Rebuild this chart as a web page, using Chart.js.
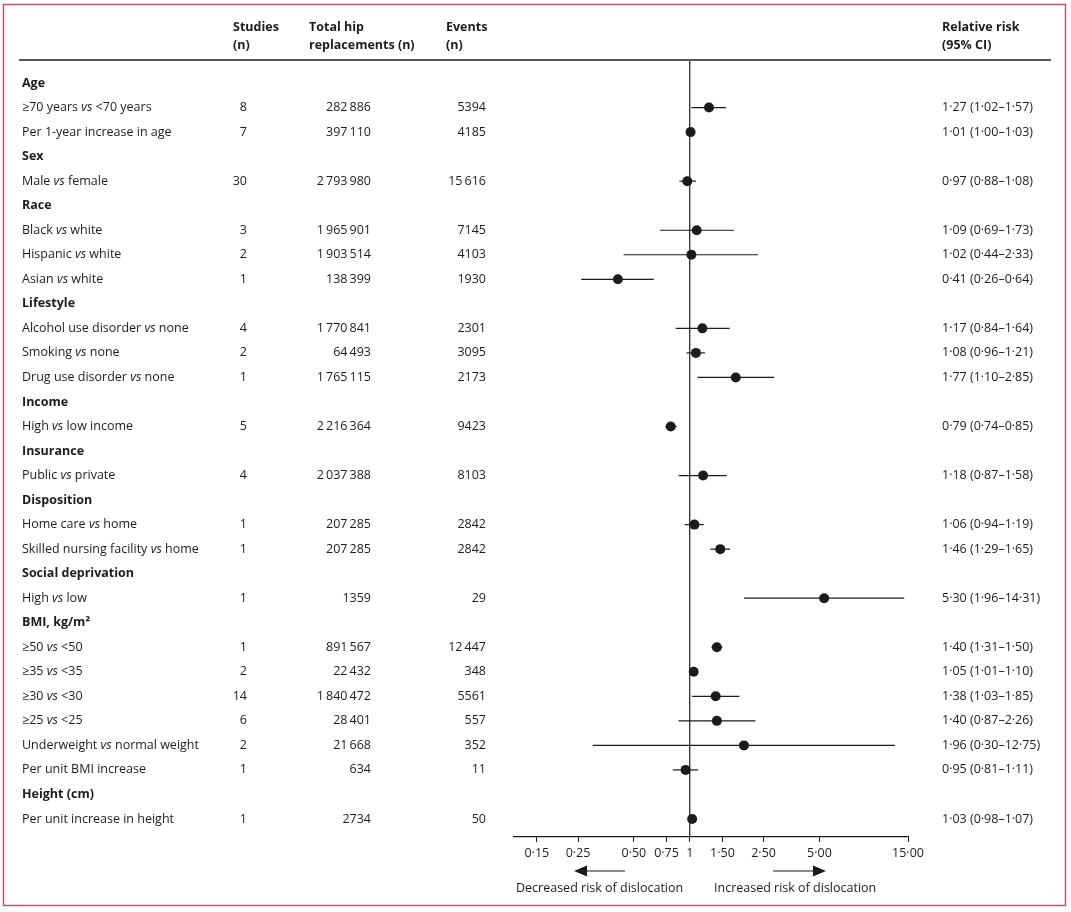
<!DOCTYPE html>
<html>
<head>
<meta charset="utf-8">
<script src="https://cdn.jsdelivr.net/npm/chart.js@4.4.1/dist/chart.umd.min.js"></script>
<style>
    html, body { margin: 0; padding: 0; background: #fff; }
    #wrap { width: 1071px; height: 912px; position: relative; }
</style>
</head>
<body>
<div id="wrap"><canvas id="forest"></canvas></div>
<script>
// Table rows (null = group heading)
const rowLabels = [
    'Age', '≥70 years vs <70 years', 'Per 1-year increase in age',
    'Sex', 'Male vs female',
    'Race', 'Black vs white', 'Hispanic vs white', 'Asian vs white',
    'Lifestyle', 'Alcohol use disorder vs none', 'Smoking vs none', 'Drug use disorder vs none',
    'Income', 'High vs low income',
    'Insurance', 'Public vs private',
    'Disposition', 'Home care vs home', 'Skilled nursing facility vs home',
    'Social deprivation', 'High vs low',
    'BMI, kg/m²', '≥50 vs <50', '≥35 vs <35', '≥30 vs <30', '≥25 vs <25',
    'Underweight vs normal weight', 'Per unit BMI increase',
    'Height (cm)', 'Per unit increase in height'
];
const studies = [null, 8, 7, null, 30, null, 3, 2, 1, null, 4, 2, 1, null, 5, null, 4, null, 1, 1,
    null, 1, null, 1, 2, 14, 6, 2, 1, null, 1];
const totals = [null, 282886, 397110, null, 2793980, null, 1965901, 1903514, 138399, null, 1770841,
    64493, 1765115, null, 2216364, null, 2037388, null, 207285, 207285, null, 1359, null, 891567,
    22432, 1840472, 28401, 21668, 634, null, 2734];
const events = [null, 5394, 4185, null, 15616, null, 7145, 4103, 1930, null, 2301, 3095, 2173,
    null, 9423, null, 8103, null, 2842, 2842, null, 29, null, 12447, 348, 5561, 557, 352, 11, null, 50];
const rr = [null, 1.27, 1.01, null, 0.97, null, 1.09, 1.02, 0.41, null, 1.17, 1.08, 1.77, null, 0.79,
    null, 1.18, null, 1.06, 1.46, null, 5.30, null, 1.40, 1.05, 1.38, 1.40, 1.96, 0.95, null, 1.03];
const ciLow = [null, 1.02, 1.00, null, 0.88, null, 0.69, 0.44, 0.26, null, 0.84, 0.96, 1.10, null, 0.74,
    null, 0.87, null, 0.94, 1.29, null, 1.96, null, 1.31, 1.01, 1.03, 0.87, 0.30, 0.81, null, 0.98];
const ciHigh = [null, 1.57, 1.03, null, 1.08, null, 1.73, 2.33, 0.64, null, 1.64, 1.21, 2.85, null, 0.85,
    null, 1.58, null, 1.19, 1.65, null, 14.31, null, 1.50, 1.10, 1.85, 2.26, 12.75, 1.11, null, 1.07];

// x axis ticks
const tickValues = [0.15, 0.25, 0.5, 0.75, 1, 1.5, 2.5, 5, 15];
const tickLabels = ['0·15', '0·25', '0·50', '0·75', '1', '1·50', '2·50', '5·00', '15·00'];

const FONT = "'Open Sans', sans-serif";
const INK = '#1e1b1c';
const FS = 12.5;

function fmtCount(n) {
    if (n >= 10000) return String(n).replace(/\B(?=(\d{3})+(?!\d))/g, '\u2009');
    return String(n);
}
function fmtDec(v) {
    return v.toFixed(2).replace('.', '·');
}

// label with italic "vs"
function drawLabel(ctx, text, x, y, bold) {
    let cx = x;
    text.split(/(\bvs\b)/).forEach(function (p) {
        ctx.font = (p === 'vs' ? 'italic ' : '') + (bold ? 'bold ' : '') + FS + 'px ' + FONT;
        ctx.fillText(p, cx, y);
        cx += ctx.measureText(p).width;
    });
}

// datasets
const ciSets = [];
rr.forEach(function (v, i) {
    if (v === null) return;
    ciSets.push({
        type: 'line',
        data: [{x: ciLow[i], y: i}, {x: ciHigh[i], y: i}],
        borderColor: INK,
        borderWidth: 1.2,
        pointRadius: 0,
        showLine: true
    });
});

const pointSet = {
    type: 'scatter',
    data: rr.map(function (v, i) { return v === null ? null : {x: v, y: i}; }).filter(Boolean),
    backgroundColor: INK,
    borderColor: INK,
    pointStyle: 'circle',
    pointRadius: 5,
    borderWidth: 0
};

const yMin = -0.94;
const yMax = 30.735;

const refLine = {
    type: 'line',
    data: [{x: 1, y: yMin}, {x: 1, y: yMax}],
    borderColor: INK,
    borderWidth: 1.2,
    pointRadius: 0,
    showLine: true
};

// table, header, border and arrows
const tablePlugin = {
    id: 'tablePlugin',
    afterDraw(chart) {
        const ctx = chart.ctx;
        const yScale = chart.scales.y;
        ctx.save();
        ctx.fillStyle = INK;
        ctx.textBaseline = 'middle';

        // column headings
        ctx.font = 'bold ' + FS + 'px ' + FONT;
        ctx.textAlign = 'left';
        ctx.fillText('Studies', 233, 27);
        ctx.fillText('(n)', 233, 45);
        ctx.fillText('Total hip', 309, 27);
        ctx.fillText('replacements (n)', 309, 45);
        ctx.fillText('Events', 446, 27);
        ctx.fillText('(n)', 446, 45);
        ctx.fillText('Relative risk', 942, 27);
        ctx.fillText('(95% CI)', 942, 45);

        // heading rule
        ctx.strokeStyle = '#58595b';
        ctx.lineWidth = 2;
        ctx.beginPath();
        ctx.moveTo(19, 60);
        ctx.lineTo(1051, 60);
        ctx.stroke();

        // rows
        rowLabels.forEach(function (lab, i) {
            const y = yScale.getPixelForValue(i);
            const head = studies[i] === null;
            ctx.textAlign = 'left';
            drawLabel(ctx, lab, 22, y, head);
            if (head) return;
            ctx.font = FS + 'px ' + FONT;
            ctx.textAlign = 'right';
            ctx.fillText(String(studies[i]), 247, y);
            ctx.fillText(fmtCount(totals[i]), 371, y);
            ctx.fillText(fmtCount(events[i]), 486, y);
            ctx.textAlign = 'left';
            ctx.fillText(fmtDec(rr[i]) + ' (' + fmtDec(ciLow[i]) + '–' + fmtDec(ciHigh[i]) + ')', 942, y);
        });

        // arrows under the axis
        ctx.strokeStyle = INK;
        ctx.lineWidth = 1.2;
        const ay = 871;
        ctx.beginPath();
        ctx.moveTo(584, ay); ctx.lineTo(625, ay);
        ctx.moveTo(773, ay); ctx.lineTo(816, ay);
        ctx.stroke();
        ctx.beginPath();
        ctx.moveTo(574, ay); ctx.lineTo(587, ay - 5.5); ctx.lineTo(587, ay + 5.5); ctx.closePath();
        ctx.moveTo(826, ay); ctx.lineTo(813, ay - 5.5); ctx.lineTo(813, ay + 5.5); ctx.closePath();
        ctx.fill();

        ctx.font = FS + 'px ' + FONT;
        ctx.textAlign = 'left';
        ctx.fillText('Decreased risk of dislocation', 516, 888);
        ctx.fillText('Increased risk of dislocation', 714, 888);

        // frame
        ctx.strokeStyle = '#c4527d';
        ctx.lineWidth = 1.5;
        ctx.strokeRect(3.5, 4.5, 1062, 901);
        ctx.restore();
    }
};

const configForest = {
    type: 'scatter',
    data: {
        datasets: [refLine].concat(ciSets, [pointSet])
    },
    options: {
        responsive: true,
        maintainAspectRatio: false,
        animation: false,
        layout: {
            padding: {left: 514, right: 163, top: 60, bottom: 47}
        },
        scales: {
            x: {
                type: 'logarithmic',
                min: 0.113,
                max: 15,
                afterBuildTicks: function (scale) {
                    scale.ticks = tickValues.map(function (v) { return {value: v}; });
                },
                ticks: {
                    autoSkip: false,
                    maxRotation: 0,
                    color: INK,
                    padding: 4,
                    font: {family: FONT, size: FS},
                    callback: function (value, index) { return tickLabels[index]; }
                },
                grid: {
                    drawOnChartArea: false,
                    drawTicks: true,
                    tickLength: 5,
                    color: INK,
                    lineWidth: 1
                },
                border: {display: true, color: INK, width: 1.2}
            },
            y: {
                type: 'linear',
                reverse: true,
                min: yMin,
                max: yMax,
                display: false
            }
        },
        plugins: {
            legend: {display: false},
            tooltip: {enabled: false}
        }
    },
    plugins: [tablePlugin]
};

const forestChart = new Chart(document.querySelector('#forest'), configForest);
</script>
</body>
</html>
